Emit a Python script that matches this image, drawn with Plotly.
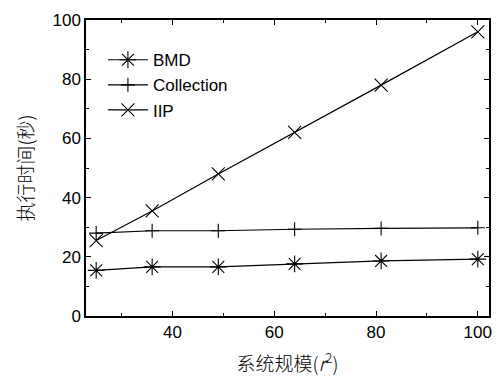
import plotly.graph_objects as go

# System size r^2 and execution time (seconds) per method
sizes = [25, 36, 49, 64, 81, 100]
bmd = [15.4, 16.6, 16.6, 17.6, 18.6, 19.2]
collection = [28.0, 28.8, 28.8, 29.3, 29.6, 29.8]
iip = [25.5, 35.5, 48.0, 62.0, 78.0, 96.0]

series = [
    ("BMD", bmd, "asterisk-open", 14),
    ("Collection", collection, "cross-thin-open", 10),
    ("IIP", iip, "x-thin-open", 13),
]

fig = go.Figure()
for name, vals, sym, sz in series:
    fig.add_trace(go.Scatter(
        x=sizes, y=vals, name=name, mode="lines+markers",
        line=dict(color="black", width=1.2),
        marker=dict(symbol=sym, size=sz, color="black",
                    line=dict(color="black", width=1.1)),
    ))

axis_common = dict(
    showline=True, linecolor="black", linewidth=1.5, mirror="ticks",
    ticks="inside", ticklen=5, tickwidth=1, tickcolor="black",
    showgrid=False, zeroline=False,
    tickfont=dict(family="Liberation Sans, Arial", size=17, color="black"),
)

cjk_font = dict(family="Noto Sans CJK SC", size=19, color="black", weight=300)

fig.update_xaxes(
    range=[23, 102.2], dtick=20, tick0=0,
    minor=dict(dtick=10, ticks="inside", ticklen=3, tickcolor="black"),
    title=dict(text="系统规模(<i>r</i><sup>2</sup>)", standoff=17, font=cjk_font),
    **axis_common,
)
fig.update_yaxes(
    range=[0, 100], dtick=20, tick0=0,
    minor=dict(dtick=10, ticks="inside", ticklen=3, tickcolor="black"),
    title=dict(text="执行时间(秒)", standoff=14, font=cjk_font),
    **axis_common,
)

fig.update_layout(
    width=503, height=383,
    margin=dict(l=86, r=11, t=19, b=64),
    paper_bgcolor="white", plot_bgcolor="white",
    showlegend=True,
    legend=dict(x=0.042, y=0.925, xanchor="left", yanchor="top",
                bgcolor="rgba(0,0,0,0)", borderwidth=0,
                font=dict(family="Liberation Sans, Arial", size=17, color="black"),
                itemwidth=40, tracegroupgap=0),
)

fig.write_html("out.html")
